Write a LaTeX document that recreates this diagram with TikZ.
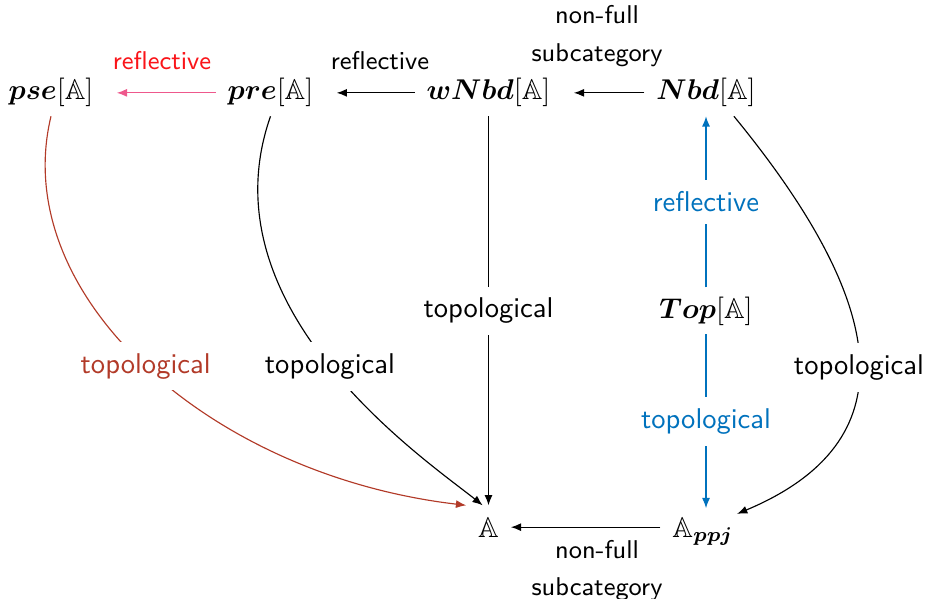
\documentclass[tikz,border=0pt]{standalone}
\usepackage{amsmath,amssymb,bm}
\usetikzlibrary{arrows.meta,calc}
\definecolor{pinkc}{RGB}{238,88,140}
\definecolor{redc}{RGB}{250,20,25}
\definecolor{brownc}{RGB}{178,58,40}
\definecolor{bluec}{RGB}{0,114,189}
\begin{document}
\begin{tikzpicture}[x=0.35pt,y=-0.35pt,
  obj/.style={inner xsep=4pt, inner ysep=3pt, anchor=base},
  ar/.style={-{Latex[length=3.6pt,width=2.8pt]}, line width=0.4pt},
  side/.style={font=\small\sffamily, inner sep=0pt, align=center},
  desc/.style={font=\sffamily, fill=white, inner sep=4pt},
]
\useasboundingbox (0,0) rectangle (927,598);
\node[obj] (pse) at (51,100) {$\bm{pse}[\mathbb{A}]$};
\node[obj] (pre) at (270.5,100) {$\bm{pre}[\mathbb{A}]$};
\node[obj] (wNbd) at (488.5,100) {$\bm{wNbd}[\mathbb{A}]$};
\node[obj] (Nbd) at (706,100) {$\bm{Nbd}[\mathbb{A}]$};
\node[obj] (Top) at (706,318) {$\bm{Top}[\mathbb{A}]$};
\node[obj, inner sep=4pt] (A) at (488.5,537) {$\mathbb{A}$};
\node[obj] (Appj) at (703,537) {$\mathbb{A}_{\bm{ppj}}$};

% top row
\draw[ar, pinkc, shorten >=4pt] (pre) -- (pse);
\draw[ar, shorten >=4pt] (wNbd) -- (pre);
\draw[ar, shorten >=4pt] (Nbd) -- (wNbd);
\node[side, anchor=south, text=redc] (l1) at (162,70) {reflective};
\node[side, anchor=south] (l2) at (380,70) {reflective};
\node[side, anchor=south] (l3) at (597,67) {non-full\\[2pt]subcategory};

% verticals
\draw[ar] (wNbd) -- (A) node[midway, desc] (l4) {topological};
\draw[ar, bluec] (Top) -- (Nbd) node[midway, desc, text=bluec] (l5) {reflective};
\draw[ar, bluec] (Top) -- (Top |- Appj.north) node[midway, desc, text=bluec] (l6) {topological};

% bottom
\draw[ar] (Appj.west |- A) -- (A);
\node[side, anchor=north] (l7) at (597,540) {non-full\\[2pt]subcategory};

% curves
\draw[ar, brownc] (pse.south) .. controls (8,294) and (208,475) .. node[desc, text=brownc] (l8) {topological} (A.north west);
\draw[ar] (pre.south) .. controls (202.6,309.5) and (426,460) .. node[desc] (l9) {topological} (A.105);
\draw[ar] (Nbd.-40) .. controls (903.6,323) and (896.6,447) .. node[desc] (l10) {topological} ([xshift=-3pt,yshift=-2pt]Appj.north east);
\end{tikzpicture}
\end{document}
